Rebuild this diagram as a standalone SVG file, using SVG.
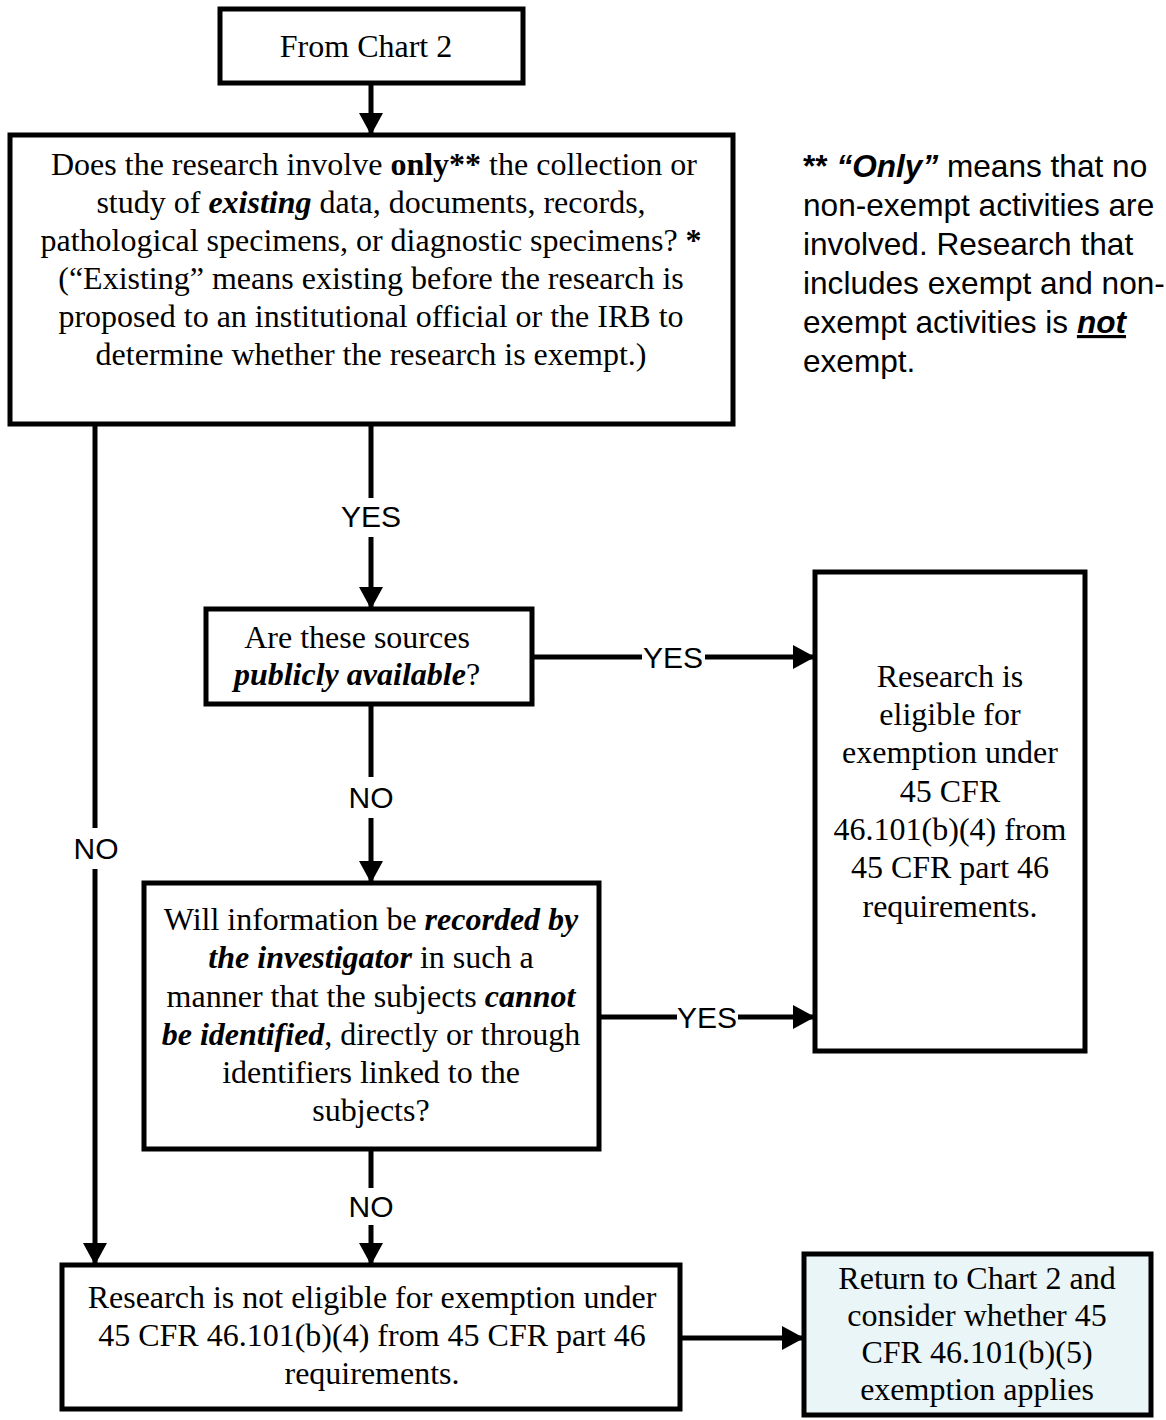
<svg xmlns="http://www.w3.org/2000/svg" width="1166" height="1420" viewBox="0 0 1166 1420">
<defs>
<style>
.box{fill:#fff;stroke:#000;stroke-width:5}
.ret{fill:#EAF5F8;stroke:#000;stroke-width:5}
.t{font-family:"Liberation Serif","Times New Roman",serif;font-size:32px;fill:#000;text-anchor:middle}
.lbl{font-family:"Liberation Sans",Arial,sans-serif;font-size:30px;fill:#000;text-anchor:middle}
.note{font-family:"Liberation Sans",Arial,sans-serif;font-size:31.6px;fill:#000}
.c{stroke:#000;stroke-width:5;fill:none}
.b{font-weight:bold}
.bi{font-weight:bold;font-style:italic}
</style>
<marker id="ah" markerUnits="userSpaceOnUse" markerWidth="22" markerHeight="24" refX="22" refY="12" orient="auto">
<path d="M0,0 L22,12 L0,24 z" fill="#000"/>
</marker>
</defs>
<rect width="1166" height="1420" fill="#fff"/>

<g id="connectors">
<line class="c" x1="371" y1="83" x2="371" y2="135" marker-end="url(#ah)"/>
<line class="c" x1="371" y1="424" x2="371" y2="498"/>
<text class="lbl" x="371" y="527">YES</text>
<line class="c" x1="371" y1="537" x2="371" y2="609" marker-end="url(#ah)"/>
<line class="c" x1="371" y1="704" x2="371" y2="777"/>
<text class="lbl" x="371" y="808">NO</text>
<line class="c" x1="371" y1="818" x2="371" y2="883" marker-end="url(#ah)"/>
<line class="c" x1="532" y1="657" x2="642" y2="657"/>
<text class="lbl" x="673" y="668">YES</text>
<line class="c" x1="705" y1="657" x2="815" y2="657" marker-end="url(#ah)"/>
<line class="c" x1="599" y1="1017" x2="677" y2="1017"/>
<text class="lbl" x="707" y="1028">YES</text>
<line class="c" x1="738" y1="1017" x2="815" y2="1017" marker-end="url(#ah)"/>
<line class="c" x1="371" y1="1149" x2="371" y2="1188"/>
<text class="lbl" x="371" y="1217">NO</text>
<line class="c" x1="371" y1="1225" x2="371" y2="1265" marker-end="url(#ah)"/>
<line class="c" x1="95" y1="424" x2="95" y2="828"/>
<text class="lbl" x="96" y="859">NO</text>
<line class="c" x1="95" y1="869" x2="95" y2="1265" marker-end="url(#ah)"/>
<line class="c" x1="680" y1="1338" x2="804" y2="1338" marker-end="url(#ah)"/>
</g>

<g id="n_from_chart2">
<rect class="box" x="220" y="9" width="303" height="74"/>
<text class="t" x="366" y="57">From Chart 2</text>
</g>

<g id="n_existing">
<rect class="box" x="10" y="135" width="723" height="289"/>
<text class="t" x="374" y="175">Does the research involve <tspan class="b">only**</tspan> the collection or</text>
<text class="t" x="371" y="213">study of <tspan class="bi">existing</tspan> data, documents, records,</text>
<text class="t" x="371" y="251">pathological specimens, or diagnostic specimens? <tspan class="b">*</tspan></text>
<text class="t" x="371" y="289">(“Existing” means existing before the research is</text>
<text class="t" x="371" y="327">proposed to an institutional official or the IRB to</text>
<text class="t" x="371" y="365">determine whether the research is exempt.)</text>
</g>

<g id="n_note">
<text class="note" x="803" y="177"><tspan class="b">**</tspan> <tspan class="bi">“Only”</tspan> means that no</text>
<text class="note" x="803" y="216">non-exempt activities are</text>
<text class="note" x="803" y="255">involved. Research that</text>
<text class="note" x="803" y="294">includes exempt and non-</text>
<text class="note" x="803" y="333">exempt activities is <tspan class="bi" text-decoration="underline">not</tspan></text>
<text class="note" x="803" y="372">exempt.</text>
</g>

<g id="n_public">
<rect class="box" x="206" y="609" width="326" height="95"/>
<text class="t" x="357" y="648">Are these sources</text>
<text class="t" x="357" y="685"><tspan class="bi">publicly available</tspan>?</text>
</g>

<g id="n_eligible">
<rect class="box" x="815" y="572" width="270" height="479"/>
<text class="t" x="950" y="687">Research is</text>
<text class="t" x="950" y="725">eligible for</text>
<text class="t" x="950" y="763">exemption under</text>
<text class="t" x="950" y="802">45 CFR</text>
<text class="t" x="950" y="840">46.101(b)(4) from</text>
<text class="t" x="950" y="878">45 CFR part 46</text>
<text class="t" x="950" y="917">requirements.</text>
</g>

<g id="n_recorded">
<rect class="box" x="144" y="883" width="455" height="266"/>
<text class="t" x="371" y="930">Will information be <tspan class="bi">recorded by</tspan></text>
<text class="t" x="371" y="968"><tspan class="bi">the investigator</tspan> in such a</text>
<text class="t" x="371" y="1007">manner that the subjects <tspan class="bi">cannot</tspan></text>
<text class="t" x="371" y="1045"><tspan class="bi">be identified</tspan>, directly or through</text>
<text class="t" x="371" y="1083">identifiers linked to the</text>
<text class="t" x="371" y="1121">subjects?</text>
</g>

<g id="n_not_eligible">
<rect class="box" x="62" y="1265" width="618" height="144"/>
<text class="t" x="372" y="1308">Research is not eligible for exemption under</text>
<text class="t" x="372" y="1346">45 CFR 46.101(b)(4) from 45 CFR part 46</text>
<text class="t" x="372" y="1384">requirements.</text>
</g>

<g id="n_return">
<rect class="ret" x="804" y="1254" width="347" height="161"/>
<text class="t" x="977" y="1289">Return to Chart 2 and</text>
<text class="t" x="977" y="1326">consider whether 45</text>
<text class="t" x="977" y="1363">CFR 46.101(b)(5)</text>
<text class="t" x="977" y="1400">exemption applies</text>
</g>
</svg>
